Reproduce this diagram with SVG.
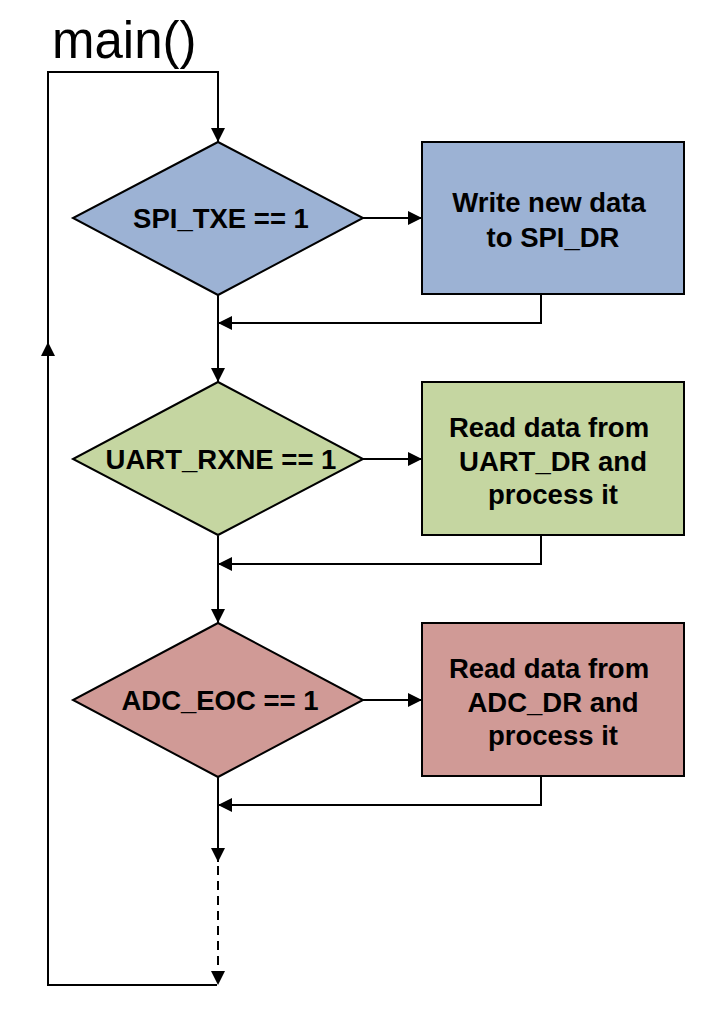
<svg xmlns="http://www.w3.org/2000/svg" width="716" height="1036" viewBox="0 0 716 1036">
<defs>
<marker id="arr" viewBox="0 0 14 14" refX="14" refY="7" markerWidth="14" markerHeight="14" markerUnits="userSpaceOnUse" orient="auto">
<path d="M0,0 L14,7 L0,14 Z" fill="#000"/>
</marker>
</defs>
<style>
.shape{stroke:#000;stroke-width:2}
.blue{fill:#9CB2D4}
.green{fill:#C5D6A1}
.red{fill:#D09A96}
.lbl{font-family:"Liberation Sans",Arial,sans-serif;font-weight:bold;font-size:27.5px;fill:#000;text-anchor:middle}
.conn{fill:none;stroke:#000;stroke-width:2}
.dash{stroke-dasharray:9,6}
</style>
<rect width="716" height="1036" fill="#fff"/>
<text x="52" y="58" font-family="'Liberation Sans',Arial,sans-serif" font-size="51" fill="#000">main()</text>

<g id="connectors">
<path class="conn" d="M217,985 H48 V72 H218 V142" marker-end="url(#arr)"/>
<path d="M41,356 L48,342 L55,356 Z" fill="#000"/>
<path class="conn" d="M363,218 H422" marker-end="url(#arr)"/>
<path class="conn" d="M541,294 V323 H218" marker-end="url(#arr)"/>
<path class="conn" d="M218,295 V382" marker-end="url(#arr)"/>
<path class="conn" d="M363,459 H422" marker-end="url(#arr)"/>
<path class="conn" d="M541,535 V564 H218" marker-end="url(#arr)"/>
<path class="conn" d="M218,536 V623" marker-end="url(#arr)"/>
<path class="conn" d="M363,700 H422" marker-end="url(#arr)"/>
<path class="conn" d="M541,776 V805 H218" marker-end="url(#arr)"/>
<path class="conn" d="M218,777 V862" marker-end="url(#arr)"/>
<path class="conn dash" d="M218,866 V985" marker-end="url(#arr)"/>
</g>

<g id="spi_txe">
<polygon class="shape blue" points="218,142 363,218 218,295 73,218"/>
<text class="lbl" x="221" y="228">SPI_TXE == 1</text>
</g>
<g id="write_spi">
<rect class="shape blue" x="422" y="142" width="262" height="152"/>
<text class="lbl" x="549" y="212">Write new data</text>
<text class="lbl" x="553" y="247">to SPI_DR</text>
</g>

<g id="uart_rxne">
<polygon class="shape green" points="218,382 363,459 218,535 73,459"/>
<text class="lbl" x="221" y="469">UART_RXNE == 1</text>
</g>
<g id="read_uart">
<rect class="shape green" x="422" y="382" width="262" height="153"/>
<text class="lbl" x="549" y="437">Read data from</text>
<text class="lbl" x="553" y="471">UART_DR and</text>
<text class="lbl" x="553" y="504">process it</text>
</g>

<g id="adc_eoc">
<polygon class="shape red" points="218,623 363,700 218,777 73,700"/>
<text class="lbl" x="220" y="710">ADC_EOC == 1</text>
</g>
<g id="read_adc">
<rect class="shape red" x="422" y="623" width="262" height="153"/>
<text class="lbl" x="549" y="678">Read data from</text>
<text class="lbl" x="553" y="712">ADC_DR and</text>
<text class="lbl" x="553" y="745">process it</text>
</g>
</svg>
